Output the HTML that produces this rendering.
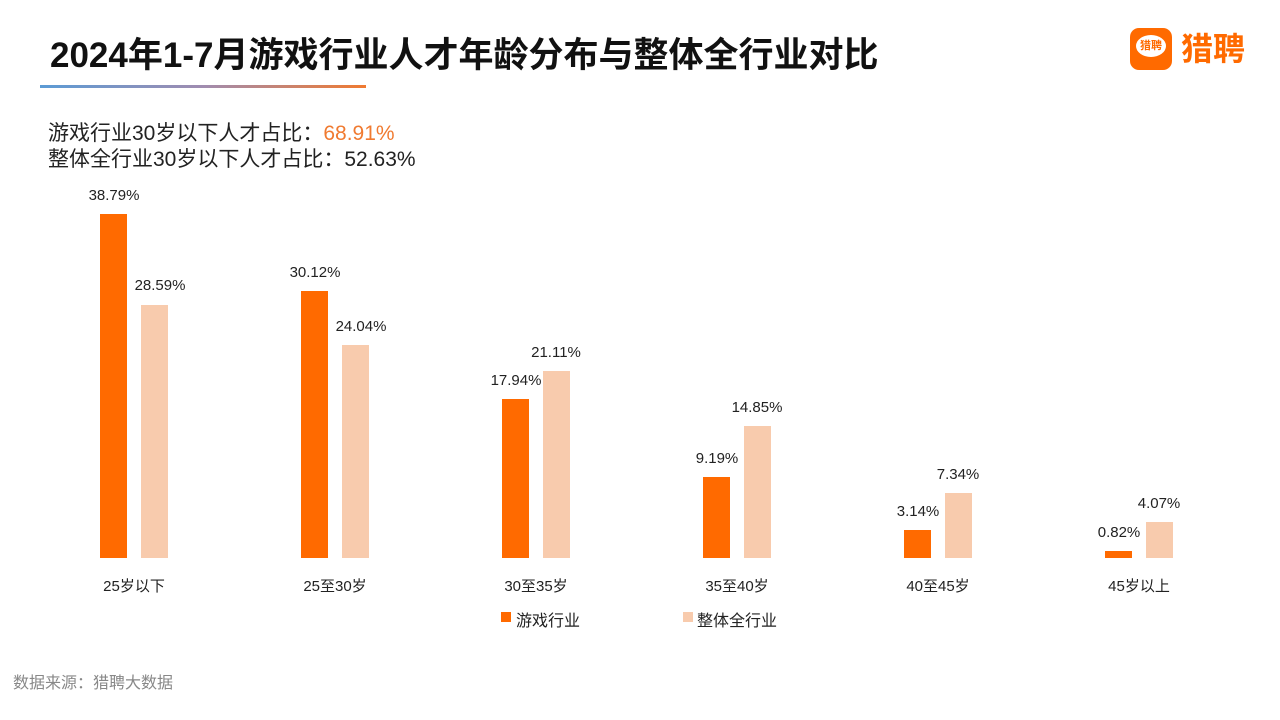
<!DOCTYPE html>
<html><head><meta charset="utf-8"><style>
body{margin:0;width:1280px;height:720px;background:#fff;position:relative;overflow:hidden;font-family:"Liberation Sans","Noto Sans CJK SC",sans-serif;}
.a{position:absolute;white-space:nowrap}
.v{position:absolute;font-size:15px;color:#222;transform:translateX(-50%);white-space:nowrap}
.c{position:absolute;font-size:15px;color:#222;transform:translateX(-50%);white-space:nowrap;top:575px}
.b{position:absolute;width:27px}
</style></head><body>
<div class="a" style="left:50px;top:27px;font-size:35px;font-weight:bold;color:#111">2024年1-7月游戏行业人才年龄分布与整体全行业对比</div>
<div class="a" style="left:40px;top:85px;width:326px;height:3px;background:linear-gradient(90deg,#5b9bd5,#a08cb0,#f07a30)"></div>
<div class="a" style="left:1130px;top:28px;width:42px;height:42px;border-radius:9px;background:#ff6a00"></div>
<div class="a" style="left:1136px;top:35px;width:30px;height:22px;border-radius:50%;background:#fff;color:#ff6a00;font-size:11px;font-weight:bold;line-height:22px;text-align:center">猎聘</div>
<div class="a" style="left:1181px;top:30px;font-size:32px;font-weight:bold;color:#ff6a00;line-height:38px">猎聘</div>
<div class="a" style="left:48px;top:117px;font-size:21px;color:#222">游戏行业30岁以下人才占比：<span style="color:#f07a30">68.91%</span></div>
<div class="a" style="left:48px;top:143px;font-size:21px;color:#222">整体全行业30岁以下人才占比：52.63%</div>

<div class="b" style="left:100px;top:214px;height:344px;background:#ff6a00"></div>
<div class="b" style="left:141px;top:305px;height:253px;background:#f8cbad"></div>
<div class="v" style="left:114px;top:187px">38.79%</div>
<div class="v" style="left:160px;top:277px">28.59%</div>
<div class="c" style="left:134px">25岁以下</div>

<div class="b" style="left:301px;top:291px;height:267px;background:#ff6a00"></div>
<div class="b" style="left:342px;top:345px;height:213px;background:#f8cbad"></div>
<div class="v" style="left:315px;top:264px">30.12%</div>
<div class="v" style="left:361px;top:318px">24.04%</div>
<div class="c" style="left:335px">25至30岁</div>

<div class="b" style="left:502px;top:399px;height:159px;background:#ff6a00"></div>
<div class="b" style="left:543px;top:371px;height:187px;background:#f8cbad"></div>
<div class="v" style="left:516px;top:372px">17.94%</div>
<div class="v" style="left:556px;top:344px">21.11%</div>
<div class="c" style="left:536px">30至35岁</div>

<div class="b" style="left:703px;top:477px;height:81px;background:#ff6a00"></div>
<div class="b" style="left:744px;top:426px;height:132px;background:#f8cbad"></div>
<div class="v" style="left:717px;top:450px">9.19%</div>
<div class="v" style="left:757px;top:399px">14.85%</div>
<div class="c" style="left:737px">35至40岁</div>

<div class="b" style="left:904px;top:530px;height:28px;background:#ff6a00"></div>
<div class="b" style="left:945px;top:493px;height:65px;background:#f8cbad"></div>
<div class="v" style="left:918px;top:503px">3.14%</div>
<div class="v" style="left:958px;top:466px">7.34%</div>
<div class="c" style="left:938px">40至45岁</div>

<div class="b" style="left:1105px;top:551px;height:7px;background:#ff6a00"></div>
<div class="b" style="left:1146px;top:522px;height:36px;background:#f8cbad"></div>
<div class="v" style="left:1119px;top:524px">0.82%</div>
<div class="v" style="left:1159px;top:495px">4.07%</div>
<div class="c" style="left:1139px">45岁以上</div>

<div class="a" style="left:501px;top:612px;width:10px;height:10px;background:#ff6a00"></div>
<div class="a" style="left:516px;top:607px;font-size:16px;color:#222">游戏行业</div>
<div class="a" style="left:683px;top:612px;width:10px;height:10px;background:#f8cbad"></div>
<div class="a" style="left:697px;top:607px;font-size:16px;color:#222">整体全行业</div>
<div class="a" style="left:13px;top:669px;font-size:16px;color:#888">数据来源：猎聘大数据</div>
</body></html>
